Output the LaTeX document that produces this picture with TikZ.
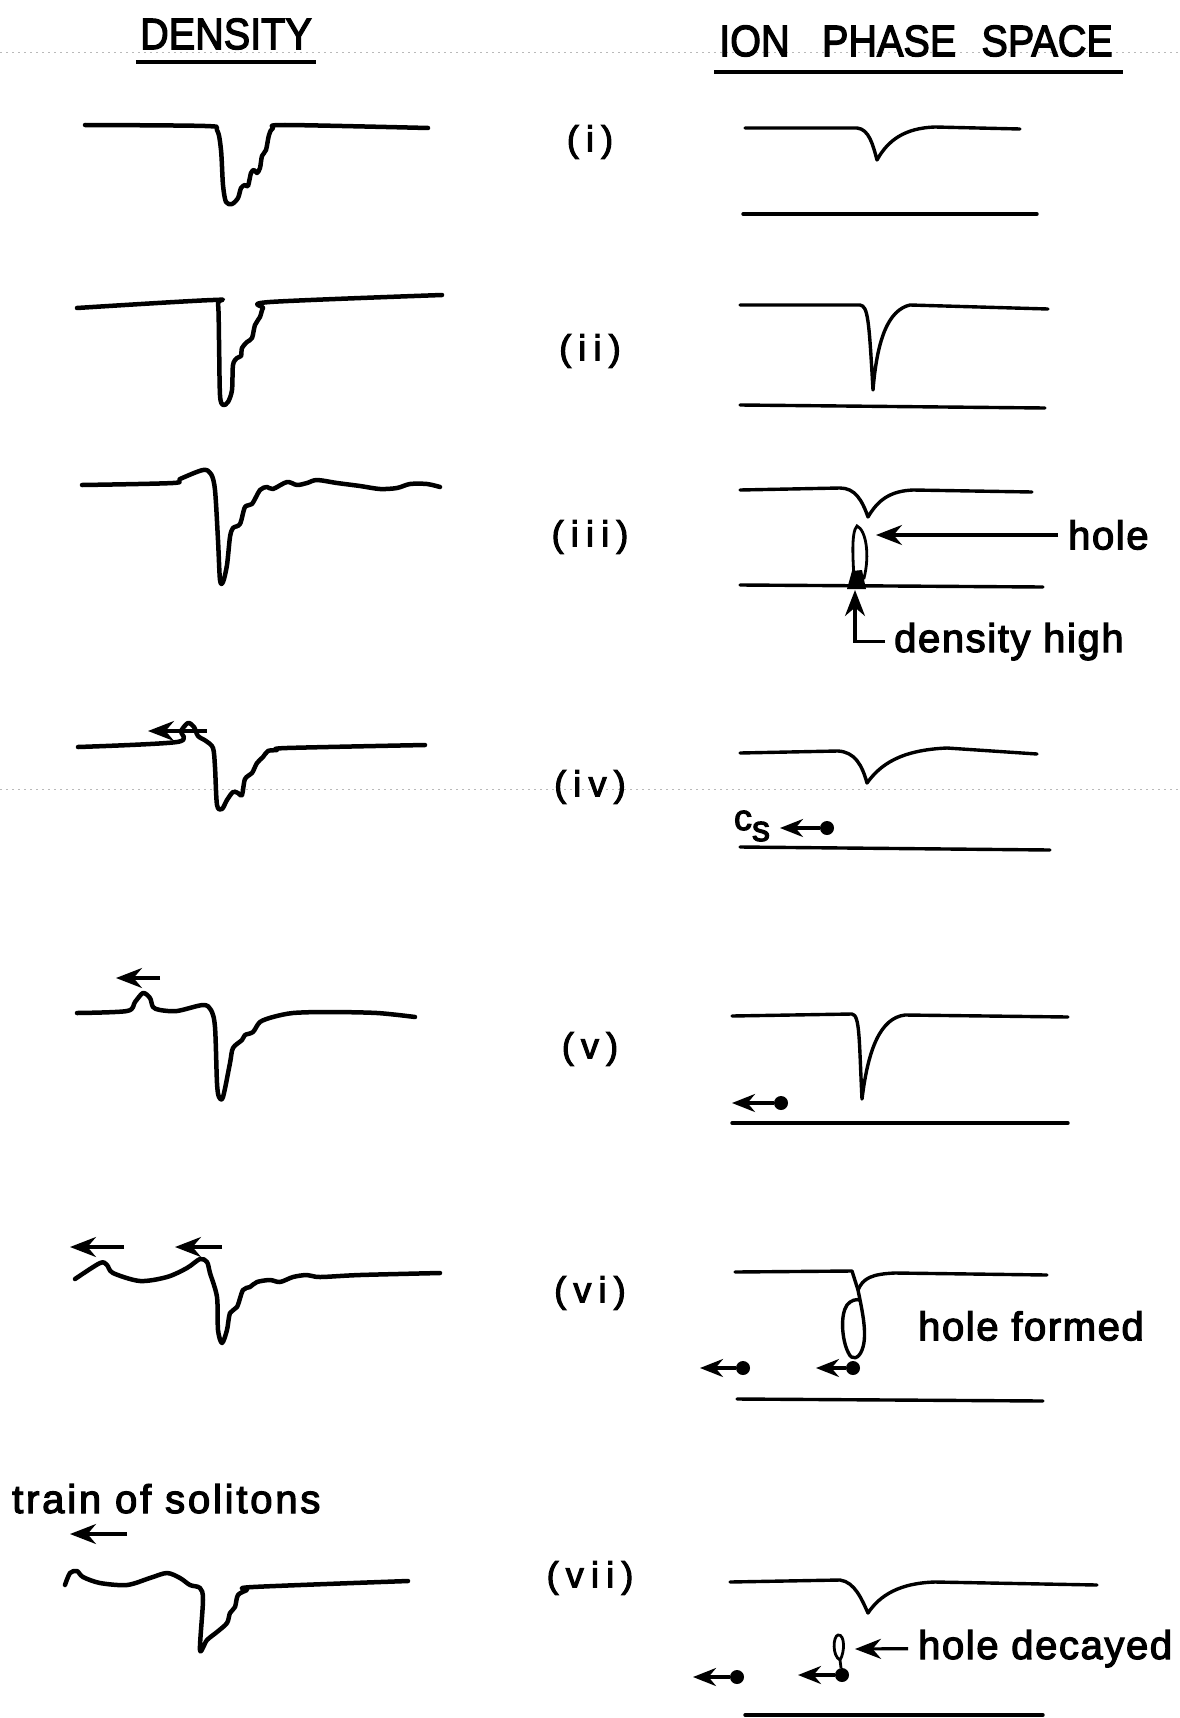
\documentclass[tikz,border=0pt]{standalone}
\usepackage{fontspec}
\setmainfont{Liberation Sans}
\usepackage{tikz}
\usetikzlibrary{positioning,arrows.meta,calc}
\newcommand\headfont{\fontsize{44}{50}\selectfont\addfontfeature{FakeBold=3}}
\newcommand\numfont{\fontsize{36}{40}\selectfont\addfontfeature{LetterSpace=20,FakeBold=3}}
\newcommand\notefont{\fontsize{40}{46}\selectfont\addfontfeature{LetterSpace=4,FakeBold=3}}
\newcommand\trainfont{\fontsize{40}{46}\selectfont\addfontfeature{LetterSpace=7,FakeBold=3}}
\newcommand\csfont{\fontsize{36}{40}\selectfont\addfontfeature{FakeBold=3}}

\begin{document}
\begin{tikzpicture}[x=1pt,y=-1pt,>={Stealth[length=26pt,width=20pt]},
  trace/.style={line width=4.5pt,line cap=round,line join=round},
  phase/.style={line width=3.4pt,line cap=round,line join=round},
  arr/.style={->,line width=3.2pt},
  dotarr/.style={->,line width=3.2pt,>={Stealth[length=23pt,width=18pt]}},
  dotnode/.style={circle,fill,inner sep=0pt,minimum size=14pt},
  fold/.style={gray!55,line width=1pt,dash pattern=on 2pt off 4pt},
  head/.style={font=\headfont,inner sep=0pt},
  numlbl/.style={font=\numfont,inner sep=0pt},
  note/.style={font=\notefont,inner sep=0pt}]
\fill[white] (0,0) rectangle (1180,1718);
\useasboundingbox (0,0) rectangle (1180,1718);
\draw[fold] (0,53) -- (1180,53);
\draw[fold] (0,789) -- (1180,789);

\node[head] (dens) at (226,34) {\scalebox{0.9}[1]{DENSITY}};
\node[head] (ions) at (916,41) {\scalebox{0.9}[1]{ION\hspace{36pt}PHASE\hspace{28pt}SPACE}};
\draw[line width=3.5pt] ([shift={(-4,12)}]dens.south west) -- ([shift={(4,12)}]dens.south east);
\draw[line width=3.5pt] ([shift={(-5,15)}]ions.south west) -- ([shift={(10,15)}]ions.south east);

\foreach \t/\y [count=\i] in {i/142,ii/351,iii/537,iv/787,v/1049,vi/1293,vii/1578}
  \node[numlbl] (r\i) at (590,\y) {(\t)};

\draw[trace] plot[smooth,tension=.5] coordinates {(85,125) (205,126) (217,130) (221,150) (223,185) (226,202) (232,204) (238,198) (241,188) (245,185) (248,186) (251,173) (254,170) (257,173) (260,168) (262,156) (266,150) (269,135) (273,128) (285,125) (428,128)};
\draw[trace] plot[smooth,tension=.5] coordinates {(77,308) (213,300) (218,304) (219,340) (220,395) (223,405) (228,402) (232,390) (233,365) (237,358) (241,356) (242,348) (247,342) (252,338) (255,325) (260,317) (263,308) (270,302) (442,295)};
\draw[trace] plot[smooth,tension=.5] coordinates {(82,485) (173,483) (180,479) (203,470) (211,474) (215,490) (218,540) (220,580) (223,582) (227,565) (230,537) (233,528) (240,524) (245,507) (252,504) (260,490) (267,487) (273,489) (287,482) (297,485) (307,483) (317,480) (337,483) (360,486) (380,489) (397,488) (410,484) (427,484) (440,487)};
\draw[trace] plot[smooth,tension=.5] coordinates {(78,747) (177,742) (181,731) (188,723) (194,727) (198,736) (206,741) (213,748) (215,767) (217,805) (222,809) (227,800) (233,792) (238,793) (242,795) (245,779) (252,773) (257,763) (263,757) (268,751) (277,750) (287,748) (425,745)};
\draw[trace] plot[smooth,tension=.5] coordinates {(77,1013) (127,1011) (135,1002) (143,993) (150,998) (153,1007) (160,1010) (177,1011) (203,1005) (211,1010) (215,1027) (217,1083) (219,1097) (223,1097) (230,1063) (233,1048) (242,1040) (245,1035) (253,1032) (260,1022) (273,1017) (293,1013) (327,1012) (377,1013) (415,1017)};
\draw[trace] plot[smooth,tension=.5] coordinates {(75,1279) (100,1263) (107,1265) (113,1273) (140,1281) (167,1277) (187,1268) (200,1259) (207,1262) (210,1273) (217,1297) (218,1330) (222,1343) (227,1330) (230,1313) (237,1307) (243,1290) (250,1287) (257,1282) (270,1280) (280,1282) (293,1277) (307,1275) (320,1277) (360,1275) (440,1273)};
\draw[trace] plot[smooth,tension=.5] coordinates {(65,1585) (70,1573) (77,1571) (83,1577) (100,1583) (127,1585) (150,1578) (167,1573) (180,1578) (190,1585) (200,1588) (203,1600) (200,1650) (207,1640) (217,1632) (227,1623) (230,1613) (235,1607) (238,1595) (247,1590) (253,1587) (408,1581)};

\coordinate (s4a) at (207,731); \coordinate (s4b) at (148,731);
\coordinate (s5a) at (160,978); \coordinate (s5b) at (116,978);
\coordinate (s6a) at (124,1247); \coordinate (s6b) at (70,1247);
\coordinate (s6c) at (222,1247); \coordinate (s6d) at (175,1247);
\coordinate (s7a) at (127,1534); \coordinate (s7b) at (70,1534);
\draw[arr] (s4a) -- (s4b);
\draw[arr] (s5a) -- (s5b);
\draw[arr] (s6a) -- (s6b);
\draw[arr] (s6c) -- (s6d);
\draw[arr] (s7a) -- (s7b);
\node[inner sep=0pt,font=\trainfont,anchor=base west] (train) at (12,1513) {train of solitons};

\draw[phase] (745,128) -- (857,128) .. controls (869,129) and (873,145) .. (877,160) .. controls (888,140) and (905,128) .. (935,127) -- (1020,129);
\draw[phase] (743,214) -- (1037,214);
\draw[phase] (740,305) -- (860,305) .. controls (868,306) and (869,320) .. (873,390) .. controls (877,340) and (888,310) .. (910,305) -- (1048,309);
\draw[phase] (740,405) -- (1045,408);
\draw[phase] (740,490) -- (840,488) .. controls (855,488) and (862,500) .. (868,517) .. controls (878,500) and (890,491) .. (913,490) -- (1032,492);
\draw[phase] (740,585) -- (1043,587);
\draw[phase] (740,753) -- (838,751) .. controls (855,752) and (862,765) .. (867,783) .. controls (880,765) and (900,750) .. (947,748) -- (1037,754);
\draw[phase] (740,847) -- (1050,850);
\draw[phase] (732,1016) -- (852,1014) .. controls (860,1015) and (859,1040) .. (862,1099) .. controls (868,1050) and (880,1018) .. (905,1015) -- (1068,1017);
\draw[phase] (732,1123) -- (1068,1123);
\draw[phase] (735,1272) -- (852,1271) -- (858,1290) .. controls (862,1310) and (868,1335) .. (862,1350) .. controls (859,1358) and (852,1362) .. (848,1352) .. controls (842,1340) and (840,1315) .. (847,1305) .. controls (851,1300) and (856,1299) .. (860,1300);
\draw[phase] (858,1290) .. controls (863,1278) and (872,1274) .. (895,1273) -- (1047,1275);
\draw[phase] (737,1399) -- (1043,1401);
\draw[phase] (730,1582) -- (840,1580) .. controls (855,1582) and (862,1600) .. (868,1613) .. controls (880,1595) and (900,1583) .. (935,1582) -- (1097,1585);
\draw[phase] (745,1715) -- (1043,1715);

\draw[line width=2.8pt] (857,526) .. controls (866,530) and (870,555) .. (864,578) -- (854,578) .. controls (853,560) and (851,532) .. (857,526) -- cycle;
\fill (847,589) -- (852,571) -- (862,570) -- (866,589) -- cycle;
\draw[line width=2.8pt] (841,1668) -- (840,1660) .. controls (832,1656) and (833,1636) .. (838,1635) .. controls (845,1634) and (845,1652) .. (840,1660);

\node[note,anchor=west] (hole) at (1068,535) {hole};
\coordinate (holetip) at (876,535);
\draw[arr] ([xshift=-10pt]hole.west) -- (holetip);
\node[note,anchor=base west] (dhigh) at (894,652) {density high};
\coordinate (hightip) at (855,590);
\draw[arr] ([xshift=-9pt]dhigh.west) -| (hightip);
\node[note,anchor=west] (hform) at (918,1326) {hole formed};
\node[note,anchor=base west] (hdec) at (918,1659) {hole decayed};
\coordinate (dectip) at (855,1649);
\draw[arr] ([xshift=-10pt]hdec.west) -- (dectip);

\node[font=\csfont,inner sep=0pt] (cs) at (752,826) {c\raisebox{-11pt}{s}};
\node[dotnode] (d4) at (827,828) {};
\coordinate (t4) at (780,828);
\draw[dotarr] (d4) -- (t4);
\node[dotnode] (d5) at (781,1103) {};
\coordinate (t5) at (732,1103);
\draw[dotarr] (d5) -- (t5);
\node[dotnode] (d6a) at (743,1368) {};
\coordinate (t6a) at (700,1368);
\draw[dotarr] (d6a) -- (t6a);
\node[dotnode] (d6b) at (853,1368) {};
\coordinate (t6b) at (816,1368);
\draw[dotarr] (d6b) -- (t6b);
\node[dotnode] (d7a) at (737,1677) {};
\coordinate (t7a) at (693,1677);
\draw[dotarr] (d7a) -- (t7a);
\node[dotnode] (d7b) at (842,1675) {};
\coordinate (t7b) at (798,1675);
\draw[dotarr] (d7b) -- (t7b);
\end{tikzpicture}
\end{document}
